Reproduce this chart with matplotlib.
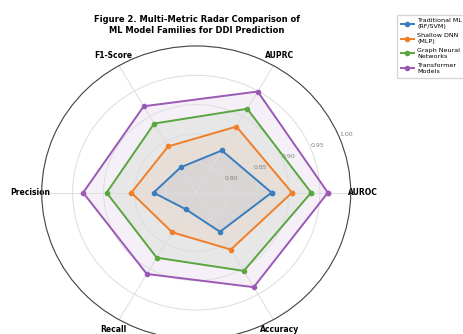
import numpy as np
import matplotlib
matplotlib.use('Agg')
import matplotlib.pyplot as plt

metrics = ['AUROC', 'AUPRC', 'F1-Score', 'Precision', 'Recall', 'Accuracy']
models = ['Traditional ML\n(RF/SVM)', 'Shallow DNN\n(MLP)', 'Graph Neural\nNetworks', 'Transformer\nModels']
trad_ml = [0.872, 0.833, 0.80, 0.819, 0.783, 0.827]
shallow_dnn = [0.905, 0.88, 0.841, 0.855, 0.828, 0.862]
gnn = [0.936, 0.915, 0.886, 0.895, 0.878, 0.904]
transformer = [0.963, 0.949, 0.92, 0.933, 0.91, 0.936]
colors = ['#3a7dbf', '#f07f2a', '#5aa640', '#9b59b6']
r_ticks = [0.80, 0.85, 0.90, 0.95, 1.00]

angles = np.linspace(0, 2 * np.pi, len(metrics), endpoint=False).tolist()
angles += angles[:1]

fig = plt.figure(figsize=(4.63, 3.34), dpi=100)
ax = fig.add_axes([0.0901, -0.016, 0.6674, 0.8784], projection='polar')
ax.set_aspect('auto')

for vals, name, c in zip([trad_ml, shallow_dnn, gnn, transformer], models, colors):
    v = vals + vals[:1]
    ax.plot(angles, v, 'o-', color=c, linewidth=1.4, markersize=3, label=name)
    ax.fill(angles, v, color=c, alpha=0.09)

ax.set_ylim(0.75, 1.0)
ax.set_xticks(angles[:-1])
ax.set_xticklabels(metrics, fontsize=5.5, fontweight='bold')
ax.tick_params(axis='x', pad=-2)
ax.set_yticks(r_ticks)
ax.set_yticklabels([f'{t:.2f}' for t in r_ticks], fontsize=4.5, color='gray')
ax.set_rlabel_position(22.5)
ax.grid(color='#dddddd', linewidth=0.7)
ax.spines['polar'].set_color('#444444')
ax.spines['polar'].set_linewidth(0.8)

fig.text(0.425, 0.925, 'Figure 2. Multi-Metric Radar Comparison of\nML Model Families for DDI Prediction',
         ha='center', va='center', fontsize=6, fontweight='bold', linespacing=1.2)

fig.legend(loc='upper left', bbox_to_anchor=(0.851, 0.966), fontsize=4.6,
           frameon=True, edgecolor='#cccccc', borderpad=0.6, labelspacing=0.65,
           handlelength=2.0, handletextpad=0.5, fancybox=True)

fig.savefig('out.png', dpi=100)
